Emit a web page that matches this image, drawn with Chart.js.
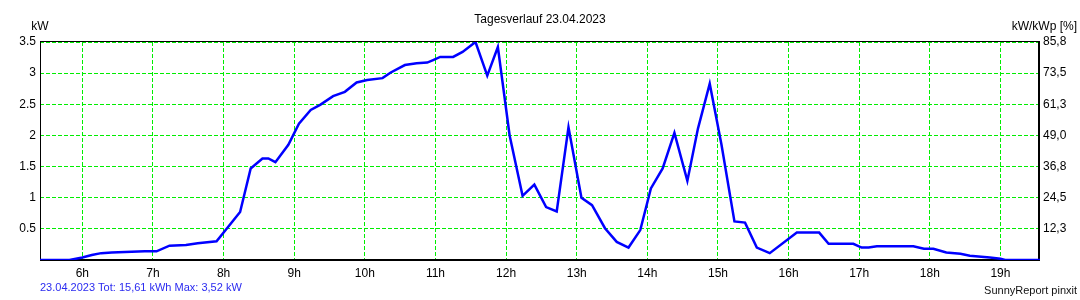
<!DOCTYPE html>
<html lang="de">
<head>
    <meta charset="UTF-8">
    <title>Tagesverlauf 23.04.2023</title>
    <script src="https://cdn.jsdelivr.net/npm/chart.js"></script>
</head>
<style>
    body {
        margin: 0;
        background: #ffffff;
    }
    canvas {
        display: block;
    }
</style>
<body>
    <canvas id="dayChart" width="1080" height="300"></canvas>
    <script>
// Tagesverlauf: Uhrzeit und Leistung in kW
const times = ['05:24', '05:49', '06:00', '06:08', '06:16', '06:25', '06:53', '07:03', '07:14', '07:28',
    '07:38', '07:54', '08:14', '08:23', '08:33', '08:38', '08:44', '08:55', '09:04', '09:14',
    '09:22', '09:33', '09:43', '09:53', '10:02', '10:15', '10:22', '10:34', '10:44', '10:53',
    '10:58', '11:04', '11:15', '11:23', '11:34', '11:44', '11:53', '12:03', '12:14', '12:24',
    '12:34', '12:43', '12:53', '13:04', '13:13', '13:24', '13:34', '13:44', '13:54', '14:03',
    '14:13', '14:23', '14:34', '14:43', '14:53', '15:03', '15:14', '15:23', '15:33', '15:44',
    '16:07', '16:26', '16:34', '16:55', '17:02', '17:08', '17:15', '17:46', '17:55', '18:03',
    '18:14', '18:26', '18:34', '18:51', '19:00', '19:04', '19:34'];
const kw = [0, 0, 0.04, 0.08, 0.11, 0.12, 0.14, 0.14, 0.23, 0.24,
    0.27, 0.30, 0.77, 1.47, 1.63, 1.63, 1.57, 1.85, 2.19, 2.41,
    2.49, 2.63, 2.70, 2.85, 2.89, 2.92, 3.01, 3.13, 3.16, 3.17,
    3.21, 3.26, 3.26, 3.34, 3.50, 2.96, 3.42, 2.00, 1.03, 1.21,
    0.85, 0.78, 2.13, 1.00, 0.88, 0.51, 0.29, 0.20, 0.48, 1.15,
    1.47, 2.04, 1.27, 2.11, 2.83, 1.85, 0.62, 0.60, 0.20, 0.11,
    0.44, 0.44, 0.26, 0.26, 0.20, 0.20, 0.22, 0.22, 0.18, 0.18,
    0.12, 0.10, 0.07, 0.04, 0.02, 0, 0];

const hourTicks = [6, 7, 8, 9, 10, 11, 12, 13, 14, 15, 16, 17, 18, 19];
const kwLabels = ['', '0.5', '1', '1.5', '2', '2.5', '3', '3.5'];
const pctLabels = ['', '12,3', '24,5', '36,8', '49,0', '61,3', '73,5', '85,8'];

const titleText = 'Tagesverlauf 23.04.2023';
const footerText = '23.04.2023 Tot: 15,61 kWh Max: 3,52 kW';
const creditText = 'SunnyReport pinxit';

const FONT = '"Liberation Sans", Arial, sans-serif';
const GRID = '#00ee00';

function toHours(s) {
    const [h, m] = s.split(':').map(Number);
    return h + m / 60;
}

// frame drawn under the line, texts drawn on top
const framePlugin = {
    id: 'frame',
    beforeDatasetsDraw(chart) {
        const { ctx, chartArea: a } = chart;
        ctx.save();
        ctx.strokeStyle = '#000';
        ctx.lineWidth = 1;
        ctx.beginPath();
        ctx.moveTo(a.left + 0.5, a.top - 0.5);
        ctx.lineTo(a.right, a.top - 0.5);
        ctx.moveTo(a.left + 0.5, a.top - 1);
        ctx.lineTo(a.left + 0.5, a.bottom);
        ctx.stroke();
        ctx.lineWidth = 2;
        ctx.beginPath();
        ctx.moveTo(a.left, a.bottom);
        ctx.lineTo(a.right, a.bottom);
        ctx.moveTo(a.right - 1, a.top - 1);
        ctx.lineTo(a.right - 1, a.bottom + 1);
        ctx.stroke();
        ctx.restore();
    },
    afterDraw(chart) {
        const { ctx } = chart;
        ctx.save();
        ctx.textBaseline = 'middle';
        ctx.fillStyle = '#000';
        ctx.font = '12px ' + FONT;
        ctx.textAlign = 'center';
        ctx.fillText(titleText, 540, 20);
        ctx.fillText('kW', 40, 27);
        ctx.textAlign = 'right';
        ctx.fillText('kW/kWp [%]', 1077, 27);
        ctx.font = '11px ' + FONT;
        ctx.fillStyle = '#2b2bf0';
        ctx.textAlign = 'left';
        ctx.fillText(footerText, 40, 288);
        ctx.fillStyle = '#111';
        ctx.textAlign = 'right';
        ctx.fillText(creditText, 1077, 291);
        ctx.restore();
    }
};

const ctx = document.getElementById('dayChart').getContext('2d');
new Chart(ctx, {
    type: 'line',
    data: {
        datasets: [{
            data: times.map((t, i) => ({ x: toHours(t), y: kw[i] })),
            borderColor: '#0000ff',
            borderWidth: 2.5,
            pointRadius: 0,
            tension: 0,
            fill: false
        }]
    },
    options: {
        responsive: false,
        animation: false,
        layout: { padding: { top: 42, left: 0, right: 0, bottom: 0 } },
        plugins: {
            legend: { display: false },
            tooltip: { enabled: false }
        },
        scales: {
            x: {
                type: 'linear',
                min: 5.4,
                max: 19.56,
                afterBuildTicks: scale => {
                    scale.ticks = hourTicks.map(h => ({ value: h }));
                },
                afterFit: scale => { scale.height = 40; },
                grid: { color: GRID, lineWidth: 1, drawTicks: false },
                border: { display: false, dash: [4, 2] },
                ticks: {
                    padding: 6,
                    color: '#000',
                    font: { family: FONT, size: 12 },
                    maxRotation: 0,
                    callback: v => v + 'h'
                }
            },
            y: {
                min: 0,
                max: 3.5,
                afterFit: scale => { scale.width = 40; },
                grid: { color: GRID, lineWidth: 1, drawTicks: false },
                border: { display: false, dash: [4, 2] },
                ticks: {
                    stepSize: 0.5,
                    padding: 4,
                    color: '#000',
                    font: { family: FONT, size: 12 },
                    callback: (v, i) => kwLabels[i]
                }
            },
            y1: {
                position: 'right',
                min: 0,
                max: 3.5,
                afterFit: scale => { scale.width = 40; },
                grid: { display: false, drawTicks: false },
                border: { display: false },
                ticks: {
                    stepSize: 0.5,
                    padding: 3,
                    color: '#000',
                    font: { family: FONT, size: 12 },
                    callback: (v, i) => pctLabels[i]
                }
            }
        }
    },
    plugins: [framePlugin]
});
    </script>
</body>
</html>
